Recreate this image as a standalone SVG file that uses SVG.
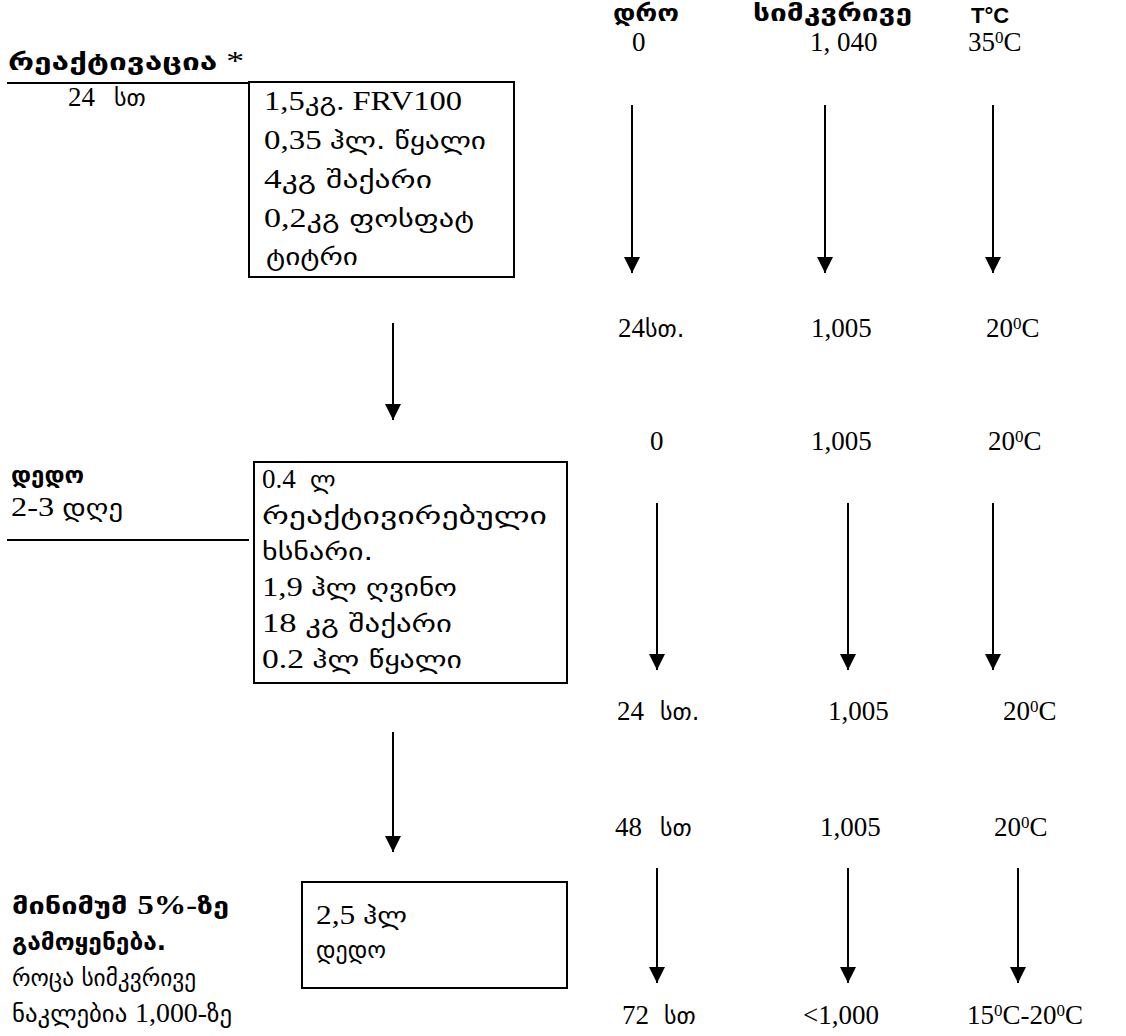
<svg xmlns="http://www.w3.org/2000/svg" width="1126" height="1036" viewBox="0 0 1126 1036">
<defs>
<style>
text{font-family:"Liberation Serif","Times New Roman",serif;font-size:27px;fill:#000}
.g{font-family:"DejaVu Sans","Noto Sans",sans-serif;font-size:24px}
.b{font-weight:bold}
.hs{font-family:"Liberation Sans",Arial,sans-serif;font-weight:bold;font-size:22px}
.sup{font-size:17px}
.box{fill:none;stroke:#000;stroke-width:2}
.rule{stroke:#000;stroke-width:2}
.arr{stroke:#000;stroke-width:2;fill:none;marker-end:url(#ah)}
</style>
<marker id="ah" markerUnits="userSpaceOnUse" markerWidth="16" markerHeight="16" refX="16" refY="8" orient="auto">
<path d="M0,0 L16,8 L0,16 z" fill="#000"/>
</marker>
</defs>
<rect width="1126" height="1036" fill="#fff"/>

<g id="header">
<text class="g b" x="613" y="21" textLength="66" lengthAdjust="spacingAndGlyphs">დრო</text>
<text class="g b" x="753" y="21" textLength="159" lengthAdjust="spacingAndGlyphs">სიმკვრივე</text>
<text class="hs" x="971" y="23">T°C</text>
</g>

<g id="row-0">
<text x="632" y="51">0</text>
<text x="810" y="51">1, 040</text>
<text x="968" y="51">35<tspan class="sup" dy="-8">0</tspan><tspan dy="8">C</tspan></text>
</g>

<g id="label-reactivation">
<text x="8" y="70" textLength="236" lengthAdjust="spacingAndGlyphs"><tspan class="g b">რეაქტივაცია</tspan><tspan> *</tspan></text>
<line class="rule" x1="7" y1="83" x2="250" y2="83"/>
<text x="68" y="106">24<tspan class="g" x="114">სთ</tspan></text>
</g>

<g id="box-reactivation">
<rect class="box" x="249" y="82" width="265" height="195"/>
<text x="264" y="110" textLength="198" lengthAdjust="spacingAndGlyphs">1,5<tspan class="g">კგ</tspan>. FRV100</text>
<text x="264" y="149" textLength="222" lengthAdjust="spacingAndGlyphs">0,35 <tspan class="g">ჰლ. წყალი</tspan></text>
<text x="264" y="188" textLength="168" lengthAdjust="spacingAndGlyphs">4<tspan class="g">კგ შაქარი</tspan></text>
<text x="264" y="227" textLength="210" lengthAdjust="spacingAndGlyphs">0,2<tspan class="g">კგ ფოსფატ</tspan></text>
<text class="g" x="266" y="265" textLength="92" lengthAdjust="spacingAndGlyphs">ტიტრი</text>
</g>

<g id="row-24h">
<text x="618" y="337">24<tspan class="g">სთ.</tspan></text>
<text x="811" y="337">1,005</text>
<text x="986" y="337">20<tspan class="sup" dy="-8">0</tspan><tspan dy="8">C</tspan></text>
</g>

<g id="row-0b">
<text x="650" y="450">0</text>
<text x="811" y="450">1,005</text>
<text x="988" y="450">20<tspan class="sup" dy="-8">0</tspan><tspan dy="8">C</tspan></text>
</g>

<g id="label-dedo">
<text class="g b" x="11" y="483" textLength="73" lengthAdjust="spacingAndGlyphs">დედო</text>
<text x="11" y="516" textLength="112" lengthAdjust="spacingAndGlyphs">2-3 <tspan class="g">დღე</tspan></text>
<line class="rule" x1="7" y1="540" x2="249" y2="540"/>
</g>

<g id="box-dedo">
<rect class="box" x="254" y="462" width="313" height="221"/>
<text x="262" y="488">0.4<tspan class="g" x="310">ლ</tspan></text>
<text class="g" x="262" y="524" textLength="285" lengthAdjust="spacingAndGlyphs">რეაქტივირებული</text>
<text class="g" x="262" y="560" textLength="111" lengthAdjust="spacingAndGlyphs">ხსნარი.</text>
<text x="262" y="596" textLength="195" lengthAdjust="spacingAndGlyphs">1,9 <tspan class="g">ჰლ ღვინო</tspan></text>
<text x="262" y="632" textLength="190" lengthAdjust="spacingAndGlyphs">18 <tspan class="g">კგ შაქარი</tspan></text>
<text x="262" y="668" textLength="200" lengthAdjust="spacingAndGlyphs">0.2 <tspan class="g">ჰლ წყალი</tspan></text>
</g>

<g id="row-24h-b">
<text x="617" y="720">24<tspan class="g" x="660">სთ.</tspan></text>
<text x="828" y="720">1,005</text>
<text x="1003" y="720">20<tspan class="sup" dy="-8">0</tspan><tspan dy="8">C</tspan></text>
</g>

<g id="row-48h">
<text x="615" y="836">48<tspan class="g" x="660">სთ</tspan></text>
<text x="820" y="836">1,005</text>
<text x="994" y="836">20<tspan class="sup" dy="-8">0</tspan><tspan dy="8">C</tspan></text>
</g>

<g id="label-use">
<text x="12" y="914" textLength="217" lengthAdjust="spacingAndGlyphs"><tspan class="g b">მინიმუმ </tspan><tspan class="b">5%-</tspan><tspan class="g b">ზე</tspan></text>
<text class="g b" x="12" y="950" textLength="154" lengthAdjust="spacingAndGlyphs">გამოყენება.</text>
<text class="g" x="12" y="986" textLength="184" lengthAdjust="spacingAndGlyphs">როცა სიმკვრივე</text>
<text x="12" y="1022" textLength="220" lengthAdjust="spacingAndGlyphs"><tspan class="g">ნაკლებია </tspan>1,000-<tspan class="g">ზე</tspan></text>
</g>

<g id="box-use">
<rect class="box" x="302" y="882" width="265" height="106"/>
<text x="316" y="924" textLength="91" lengthAdjust="spacingAndGlyphs">2,5 <tspan class="g">ჰლ</tspan></text>
<text class="g" x="316" y="958" textLength="70" lengthAdjust="spacingAndGlyphs">დედო</text>
</g>

<g id="row-72h">
<text x="622" y="1024">72<tspan class="g" x="664">სთ</tspan></text>
<text x="803" y="1024">&lt;1,000</text>
<text x="967" y="1024">15<tspan class="sup" dy="-8">0</tspan><tspan dy="8">C-20</tspan><tspan class="sup" dy="-8">0</tspan><tspan dy="8">C</tspan></text>
</g>

<g id="connectors">
<line class="arr" x1="632" y1="105" x2="632" y2="273"/>
<line class="arr" x1="825" y1="105" x2="825" y2="273"/>
<line class="arr" x1="993" y1="105" x2="993" y2="273"/>
<line class="arr" x1="393" y1="323" x2="393" y2="420"/>
<line class="arr" x1="657" y1="503" x2="657" y2="670"/>
<line class="arr" x1="848" y1="503" x2="848" y2="670"/>
<line class="arr" x1="993" y1="503" x2="993" y2="670"/>
<line class="arr" x1="393" y1="732" x2="393" y2="852"/>
<line class="arr" x1="657" y1="868" x2="657" y2="983"/>
<line class="arr" x1="848" y1="868" x2="848" y2="983"/>
<line class="arr" x1="1018" y1="868" x2="1018" y2="983"/>
</g>
</svg>
